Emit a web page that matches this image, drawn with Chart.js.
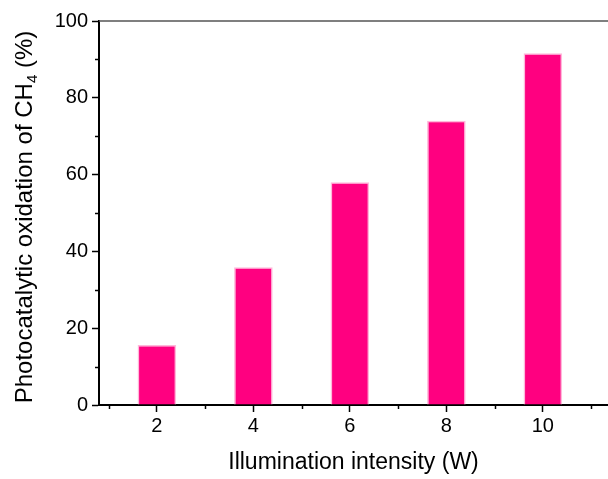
<!DOCTYPE html>
<html>
<head>
<meta charset="utf-8">
<script src="https://cdn.jsdelivr.net/npm/chart.js@4"></script>
<style>
  body { margin: 0; background: #fff; }
  canvas { display: block; }
</style>
</head>
<body>
<canvas id="myChartBar" width="608" height="479"></canvas>
<script>
// dados
let intensidades = [2, 4, 6, 8, 10];
let oxidacao = [15.6, 35.9, 58.0, 74.0, 91.6];
let ticksX = [2, 4, 6, 8, 10];
let ticksXMenores = [1, 3, 5, 7, 9, 11];
let ticksYMenores = [10, 30, 50, 70, 90];

let fonte = "'Liberation Sans', Arial, sans-serif";

// ticks menores, linha de cima e titulo do eixo y (com subscrito)
let extras = {
    id: 'extras',
    afterDraw(chart) {
        let ctx = chart.ctx;
        let area = chart.chartArea;
        let sx = chart.scales.x;
        let sy = chart.scales.y;
        ctx.save();
        ctx.strokeStyle = '#000';
        ctx.lineWidth = 1.5;
        for (let i in ticksXMenores) {
            let px = Math.round(sx.getPixelForValue(ticksXMenores[i])) + 0.5;
            ctx.beginPath();
            ctx.moveTo(px, area.bottom);
            ctx.lineTo(px, area.bottom + 4);
            ctx.stroke();
        }
        for (let i in ticksYMenores) {
            let py = Math.round(sy.getPixelForValue(ticksYMenores[i])) + 0.5;
            ctx.beginPath();
            ctx.moveTo(area.left, py);
            ctx.lineTo(area.left - 4, py);
            ctx.stroke();
        }
        // linha do topo
        ctx.strokeStyle = '#555';
        ctx.lineWidth = 1.5;
        ctx.beginPath();
        ctx.moveTo(area.left, area.top);
        ctx.lineTo(chart.width, area.top);
        ctx.stroke();

        // titulo do eixo y
        let partes = ['Photocatalytic oxidation of CH', '4', ' (%)'];
        ctx.fillStyle = '#000';
        ctx.font = '24px ' + fonte;
        let w1 = ctx.measureText(partes[0]).width;
        let w3 = ctx.measureText(partes[2]).width;
        ctx.font = '15px ' + fonte;
        let w2 = ctx.measureText(partes[1]).width;
        let total = w1 + w2 + w3;
        ctx.translate(32, 217);
        ctx.rotate(-Math.PI / 2);
        ctx.textBaseline = 'alphabetic';
        ctx.textAlign = 'left';
        let x0 = -total / 2;
        ctx.font = '24px ' + fonte;
        ctx.fillText(partes[0], x0, 0);
        ctx.font = '15px ' + fonte;
        ctx.fillText(partes[1], x0 + w1, 5);
        ctx.font = '24px ' + fonte;
        ctx.fillText(partes[2], x0 + w1 + w2, 0);
        ctx.restore();
    }
};

let pontos = [];
for (let i in intensidades) {
    pontos.push({ x: intensidades[i], y: oxidacao[i] });
}

let canvas = document.getElementById('myChartBar');
myChartBar = new Chart(canvas, {
    type: 'bar',
    data: {
        datasets: [{
            label: 'Photocatalytic oxidation of CH4',
            data: pontos,
            backgroundColor: '#FF0080',
            borderColor: '#FFB8DA',
            borderWidth: 1.5,
            borderSkipped: 'bottom',
            barPercentage: 0.4,
            categoryPercentage: 1
        }]
    },
    options: {
        responsive: false,
        animation: false,
        layout: { padding: { top: 21, left: 0, right: 0, bottom: 0 } },
        plugins: {
            legend: { display: false },
            tooltip: { enabled: false }
        },
        scales: {
            x: {
                type: 'linear',
                offset: false,
                min: 0.8,
                max: 11.35,
                afterBuildTicks: function (scale) {
                    scale.ticks = ticksX.map(function (v) { return { value: v }; });
                },
                afterFit: function (scale) { scale.height = 74; },
                grid: {
                    drawOnChartArea: false,
                    offset: false,
                    tickLength: 7,
                    tickColor: '#000',
                    tickWidth: 1.5
                },
                border: { color: '#000', width: 2 },
                ticks: {
                    color: '#000',
                    font: { family: fonte, size: 20 },
                    padding: 2,
                    maxRotation: 0
                },
                title: {
                    display: true,
                    text: 'Illumination intensity (W)',
                    color: '#000',
                    font: { family: fonte, size: 23 },
                    padding: { top: 0, bottom: 3 }
                }
            },
            y: {
                min: 0,
                max: 100,
                afterFit: function (scale) { scale.width = 99; },
                grid: {
                    drawOnChartArea: false,
                    tickLength: 7,
                    tickColor: '#000',
                    tickWidth: 1.5
                },
                border: { color: '#000', width: 2 },
                ticks: {
                    stepSize: 20,
                    color: '#000',
                    font: { family: fonte, size: 20 },
                    padding: 4
                }
            }
        }
    },
    plugins: [extras]
});
</script>
</body>
</html>
